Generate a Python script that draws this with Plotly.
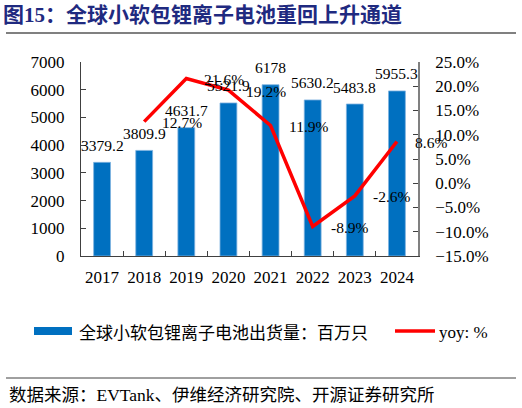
import plotly.graph_objects as go

years = ["2017", "2018", "2019", "2020", "2021", "2022", "2023", "2024"]
shipments = [3379.2, 3809.9, 4631.7, 5521.9, 6178, 5630.2, 5483.8, 5955.3]
yoy_years = ["2018", "2019", "2020", "2021", "2022", "2023", "2024"]
yoy = [12.7, 21.6, 19.2, 11.9, -8.9, -2.6, 8.6]

bar_name = "全球小软包锂离子电池出货量：百万只"
line_name = "yoy: %"
title_text = "图15：全球小软包锂离子电池重回上升通道"
source_text = "数据来源：EVTank、伊维经济研究院、开源证券研究所"

SERIF = "Liberation Serif, Noto Sans CJK SC"
CJK = "Noto Sans CJK SC"
BLUE = "#0070C0"
RED = "#FF0000"

# plot area in pixels: x 81..418, y 62..256 on a 522x408 page
L, R, T, B = 81, 418, 62, 256
def px(x):
    return (x - L) / (R - L)
def py(y):
    return (B - y) / (B - T)

fig = go.Figure()
fig.add_trace(go.Bar(x=years, y=shipments, name=bar_name, width=0.4,
                     marker=dict(color=BLUE, line=dict(color="#7FB2E0", width=0.8)),
                     yaxis="y", showlegend=False))
fig.add_trace(go.Scatter(x=yoy_years, y=yoy, name=line_name, mode="lines",
                         line=dict(color=RED, width=3.5), yaxis="y2", showlegend=False))

annotations = []
# category axis: annotations take the category index
for x, v in zip(years, shipments):
    annotations.append(dict(x=years.index(x), y=v, xref="x", yref="y", text=f"{v:g}", showarrow=False,
                            yshift=17, yanchor="middle", font=dict(family=SERIF, size=15.5, color="black")))
for x, v in zip(yoy_years, yoy):
    annotations.append(dict(x=years.index(x), y=v, xref="x", yref="y2", text=f"{v:.1f}%", showarrow=False,
                            xshift=16, xanchor="left", yanchor="middle", yshift=-1,
                            font=dict(family=SERIF, size=15.5, color="black")))

# legend drawn by hand
annotations.append(dict(x=px(77), y=py(331), xref="paper", yref="paper", text=bar_name, showarrow=False,
                        xanchor="left", yanchor="middle", font=dict(family=CJK, size=17, color="black")))
annotations.append(dict(x=px(437), y=py(332), xref="paper", yref="paper", text=line_name, showarrow=False,
                        xanchor="left", yanchor="middle", font=dict(family=SERIF, size=17, color="black")))
annotations.append(dict(x=px(7), y=py(395), xref="paper", yref="paper", text=source_text, showarrow=False,
                        xanchor="left", yanchor="middle", font=dict(family=SERIF, size=17.5, color="black")))

shapes = [
    dict(type="line", xref="paper", yref="paper", x0=px(6), x1=px(516), y0=py(33), y1=py(33),
         line=dict(color="#808080", width=2)),
    dict(type="line", xref="paper", yref="paper", x0=px(6), x1=px(516), y0=py(378), y1=py(378),
         line=dict(color="#404040", width=1)),
    dict(type="rect", xref="paper", yref="paper", x0=px(34), x1=px(72), y0=py(335), y1=py(327),
         fillcolor=BLUE, line=dict(width=0)),
    dict(type="line", xref="paper", yref="paper", x0=px(395), x1=px(435), y0=py(331), y1=py(331),
         line=dict(color=RED, width=3.5)),
]

fig.update_layout(
    width=522, height=408,
    margin=dict(l=L, r=522 - R, t=T, b=408 - B),
    paper_bgcolor="white", plot_bgcolor="white",
    title=dict(text="<b>" + title_text + "</b>", x=3 / 522, xanchor="left", xref="container",
               y=1 - 15 / 408, yanchor="middle", yref="container",
               font=dict(family=SERIF, size=21, color="#1F2A80")),
    xaxis=dict(type="category", categoryorder="array", categoryarray=years,
               range=[-0.5, len(years) - 0.5], automargin=False, tickangle=0,
               showline=True, linecolor="#404040", linewidth=1,
               ticks="inside", tickson="boundaries", ticklen=5, tickcolor="#404040",
               tickfont=dict(family=SERIF, size=17, color="black"), ticklabelstandoff=6,
               showgrid=False, zeroline=False),
    yaxis=dict(range=[0, 7000], dtick=1000, showline=True, linecolor="#404040", linewidth=1,
               automargin=False,
               ticks="inside", ticklen=5, tickcolor="#404040", showgrid=False, zeroline=False,
               tickfont=dict(family=SERIF, size=17, color="black"), ticklabelstandoff=12),
    yaxis2=dict(range=[-15, 25], dtick=5, overlaying="y", side="right", anchor="x",
                automargin=False,
                showline=True, linecolor="#808080", linewidth=1.5,
                ticks="inside", ticklen=5, tickcolor="#404040", showgrid=False, zeroline=False,
                tickformat=".1f", ticksuffix="%",
                tickfont=dict(family=SERIF, size=17, color="black"), ticklabelstandoff=12),
    annotations=annotations,
    shapes=shapes,
    showlegend=False,
)

# the page body has a default 8px margin; drop it so the figure fills the window
fig.write_html("out.html", config={"displayModeBar": False},
               post_script="document.body.style.margin='0';")
